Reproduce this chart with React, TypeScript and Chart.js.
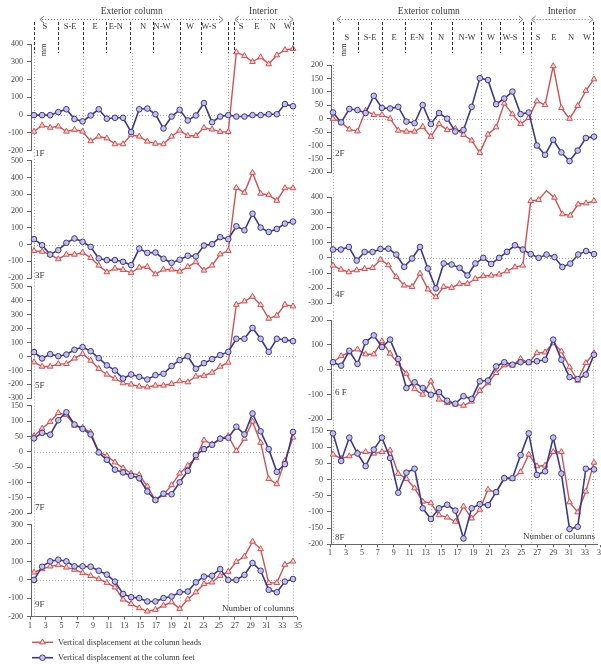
import React, { useEffect, useRef } from "react";
import { Chart, registerables } from "chart.js";

Chart.register(...registerables);

const SERIF = "'Liberation Serif', 'DejaVu Serif', 'Times New Roman', serif";

// ---------------- data ----------------
const X_TICK_LABELS = [1, 3, 5, 7, 9, 11, 13, 15, 17, 19, 21, 23, 25, 27, 29, 31, 33, 35];
const DIRECTION_LABELS = ["S", "S-E", "E", "E-N", "N", "N-W", "W", "W-S", "S", "E", "N", "W"];
const GROUP_TITLES = ["Exterior column", "Interior"];
const SERIES_NAMES = [
  "Vertical displacement at the column heads",
  "Vertical displacement at the column feet",
];
const X_TITLE = "Number of columns";
const UNIT = "mm";

const HEADS_1F = [-92, -58, -70, -63, -92, -82, -92, -146, -120, -130, -163, -163, -110, -120, -148, -160, -163, -120, -86, -116, -116, -71, -80, -94, -94, 354, 333, 300, 326, 287, 337, 367, 373];
const FEET_1F = [0, 0, 0, 17, 33, -22, -35, -2, 33, -20, -15, -15, -95, 33, 37, 5, -75, -8, 30, -30, -2, 68, -40, -8, 0, -8, -8, 0, 0, 5, 5, 62, 50];

const HEADS_3F = [-38, -42, -60, -87, -60, -60, -48, -79, -125, -165, -143, -151, -169, -137, -133, -177, -149, -149, -161, -133, -105, -155, -125, -58, -38, 339, 310, 429, 304, 296, 262, 337, 337];
const FEET_3F = [32, -4, -60, -34, 10, 36, 16, -14, -83, -93, -93, -103, -123, -24, -50, -48, -85, -109, -91, -67, -71, -6, 2, 44, 32, 109, 85, 184, 101, 75, 93, 125, 137];

const HEADS_5F = [-41, -72, -72, -53, -53, -14, 19, -29, -88, -129, -158, -191, -200, -215, -220, -208, -208, -196, -177, -184, -143, -138, -115, -72, -43, 372, 396, 430, 370, 272, 294, 372, 360];
const FEET_5F = [31, -14, 17, 2, 14, 48, 67, 38, -12, -64, -100, -158, -129, -146, -165, -134, -124, -69, -26, 2, -88, -48, -19, 10, 33, 127, 127, 205, 127, 33, 127, 119, 110];

const HEADS_7F = [52, 76, 98, 127, 120, 86, 79, 63, 0, -13, -34, -53, -70, -75, -112, -157, -140, -108, -70, -45, -19, 38, 25, 43, 52, 3, 43, 99, 30, -88, -105, -29, 47];
const FEET_7F = [44, 62, 56, 103, 129, 89, 75, 57, -2, -26, -58, -67, -78, -86, -129, -157, -136, -138, -99, -62, -11, 9, 23, 43, 46, 82, 57, 125, 67, 9, -65, -40, 65];

const HEADS_9F = [41, 59, 74, 81, 68, 56, 38, 22, 5, -15, -40, -106, -130, -153, -171, -162, -139, -121, -157, -105, -67, -22, -13, 23, 45, 99, 128, 209, 168, -16, -16, 83, 101];
const FEET_9F = [0, 72, 101, 110, 101, 74, 74, 72, 50, 29, -9, -76, -94, -99, -117, -117, -99, -90, -67, -63, -13, 18, 23, 59, 0, 0, 27, 92, 50, -54, -67, -9, 5];

const HEADS_2F = [0, -14, -40, -47, 30, 14, 14, 0, -44, -48, -48, -30, -67, -20, -42, -37, -60, -81, -127, -59, -32, 57, 17, -20, 3, 65, 51, 196, 40, 0, 48, 104, 147];
const FEET_2F = [23, -14, 36, 32, 21, 85, 40, 38, 44, -11, -17, 51, -20, 21, 0, -48, -42, 44, 151, 144, 54, 75, 101, 17, 23, -100, -135, -79, -126, -158, -119, -72, -67];

const HEADS_4F = [-50, -77, -94, -81, -72, -66, -11, -48, -125, -182, -191, -103, -208, -259, -191, -197, -171, -171, -138, -120, -116, -109, -88, -61, -50, 376, 383, 444, 398, 289, 280, 354, 361, 376];
const FEET_4F = [55, 55, 72, -18, 39, 39, 59, 61, 22, -59, -4, 72, -70, -202, -37, -44, -66, -116, -37, 0, -40, 0, 40, 83, 55, 25, 0, 22, 5, -60, -38, 22, 45, 25];

const HEADS_6F = [30, 55, 70, 82, 62, 62, 115, 65, 25, -16, -78, -100, -47, -120, -134, -140, -145, -128, -85, -54, -13, 18, 17, 44, 27, 67, 70, 107, 74, 10, -44, 27, 67];
const FEET_6F = [30, 16, 76, 23, 111, 138, 91, 121, 43, -74, -51, -74, -101, -91, -125, -137, -107, -118, -47, -44, 13, 30, 20, 30, 30, 34, 40, 121, 40, -30, -38, -20, 60];

const HEADS_8F = [77, 64, 72, 82, 85, 80, 85, 90, 18, 2, -27, -68, -73, -110, -117, -130, -83, -120, -93, -31, -41, 4, 2, 23, 77, 41, 43, 85, 85, -70, -101, -37, 52];
const FEET_8F = [142, 57, 129, 80, 41, 92, 129, 66, -41, 21, 33, -89, -122, -89, -78, -96, -182, -89, -76, -79, -39, 4, 4, 75, 142, 14, 25, 129, 18, -153, -146, 33, 31];

const Y_TICKS_1F = [-200, -100, 0, 100, 200, 300, 400];
const Y_TICKS_3F = [-200, -100, 0, 100, 200, 300, 400, 500];
const Y_TICKS_5F = [-300, -200, -100, 0, 100, 200, 300, 400, 500];
const Y_TICKS_7F = [-200, -150, -100, -50, 0, 50, 100, 150];
const Y_TICKS_9F = [-200, -100, 0, 100, 200, 300];
const Y_TICKS_2F = [-200, -150, -100, -50, 0, 50, 100, 150, 200];
const Y_TICKS_4F = [-300, -200, -100, 0, 100, 200, 300, 400];
const Y_TICKS_6F = [-200, -100, 0, 100, 200];
const Y_TICKS_8F = [-200, -150, -100, -50, 0, 50, 100, 150];

// ---------------- layout / style ----------------
const RED = "#cd5353";
const RED_FILL = "#f6d3d3";
const BLUE = "#3b3889";
const BLUE_FILL = "#c3c1e8";
const TEXT = "#3a3a3a";
const AXIS = "#666";
const XAXIS_H = 14;
const HEADER_BOTTOM = 53;
const TRI_R = 3.3;
const CIRC_R = 2.8;

const COLUMNS: any = {
  L: {
    canvasLeft: 0, canvasWidth: 304, axisX: 31, areaRight: 296,
    firstPt: 34, lastPt: 293, label1X: 30, labelUnit: 7.88,
    grid: [1.55, 7.73, 13.94, 20.04, 26.13, 34.41],
    seps: [1.55, 4.55, 7.73, 10.64, 13.69, 16.61, 20.04, 22.7, 26.13, 26.9, 34.41],
    arrows: [[2.27, 25.5], [27.0, 34.4]],
    titles: [13.9, 30.6],
    dirs: [2.9, 6.08, 9.25, 11.9, 15.34, 17.75, 21.3, 23.7, 27.8, 29.8, 31.8, 33.7],
    dirY: 27, mm: 2.78, xTitleY: -7.7,
  },
  R: {
    canvasLeft: 300, canvasWidth: 310, axisX: 331, areaRight: 597,
    firstPt: 333, lastPt: 594, label1X: 330, labelUnit: 7.97,
    grid: [1.38, 7.49, 13.67, 19.95, 26.22, 34.04],
    seps: [1.38, 4.51, 7.52, 10.41, 13.67, 16.31, 19.95, 22.33, 25.22, 26.22, 34.04],
    arrows: [[1.88, 25.2], [26.3, 34.0]],
    titles: [13.4, 30.1],
    dirs: [3.13, 6.02, 9.03, 11.92, 14.93, 18.19, 21.2, 23.58, 27.1, 29.1, 31.24, 33.25],
    dirY: 38, mm: 2.76, xTitleY: -7.3,
  },
};

const PANELS: any[] = [
  { floor: "1F", heads: HEADS_1F, feet: FEET_1F, yTicks: Y_TICKS_1F, col: "L", top: 44, bottom: 150.7, labelDy: 3, header: true },
  { floor: "3F", heads: HEADS_3F, feet: FEET_3F, yTicks: Y_TICKS_3F, col: "L", top: 160.5, bottom: 278, labelDy: -2 },
  { floor: "5F", heads: HEADS_5F, feet: FEET_5F, yTicks: Y_TICKS_5F, col: "L", top: 286.7, bottom: 398.3, labelDy: -13 },
  { floor: "7F", heads: HEADS_7F, feet: FEET_7F, yTicks: Y_TICKS_7F, col: "L", top: 405, bottom: 513.3, labelDy: -5.6 },
  { floor: "9F", heads: HEADS_9F, feet: FEET_9F, yTicks: Y_TICKS_9F, col: "L", top: 524, bottom: 616.7, labelDy: -12, xAxis: true, legend: true },
  { floor: "2F", heads: HEADS_2F, feet: FEET_2F, yTicks: Y_TICKS_2F, col: "R", top: 65, bottom: 172.3, labelDy: -19, header: true },
  { floor: "4F", heads: HEADS_4F, feet: FEET_4F, yTicks: Y_TICKS_4F, col: "R", top: 197.3, bottom: 303.3, labelDy: -9 },
  { floor: "6 F", heads: HEADS_6F, feet: FEET_6F, yTicks: Y_TICKS_6F, col: "R", top: 320, bottom: 419.3, labelDy: -27 },
  { floor: "8F", heads: HEADS_8F, feet: FEET_8F, yTicks: Y_TICKS_8F, col: "R", top: 430.7, bottom: 544.3, labelDy: -7, xAxis: true },
];

function extents(i: number) {
  const p = PANELS[i];
  const same = PANELS.filter((q) => q.col === p.col);
  const k = same.indexOf(p);
  const prev = same[k - 1];
  const next = same[k + 1];
  return {
    extTop: prev ? (p.top - prev.bottom) / 2 : 0,
    extBottom: next ? (next.top - p.bottom) / 2 : 0,
  };
}

function geom(i: number) {
  const p = PANELS[i];
  const c = COLUMNS[p.col];
  const { extTop, extBottom } = extents(i);
  const top = p.header ? 0 : Math.floor(p.top - Math.max(7, extTop)) - 1;
  const bottom = p.legend ? 664 : p.xAxis ? Math.ceil(p.bottom) + 20 : Math.ceil(p.bottom + Math.max(8, extBottom)) + 1;
  return {
    left: c.canvasLeft, top, w: c.canvasWidth, h: bottom - top,
    padTop: p.top - top,
    padBottom: bottom - p.bottom - (p.xAxis ? XAXIS_H : 0),
    extTop, extBottom,
  };
}

function line(ctx: CanvasRenderingContext2D, x1: number, y1: number, x2: number, y2: number) {
  ctx.beginPath();
  ctx.moveTo(x1, y1);
  ctx.lineTo(x2, y2);
  ctx.stroke();
}

function drawHeader(ctx: CanvasRenderingContext2D, xl: any, c: any) {
  const px = (v: number) => xl.getPixelForValue(v);
  ctx.save();
  ctx.fillStyle = TEXT;
  ctx.textAlign = "center";
  ctx.textBaseline = "middle";
  ctx.font = `9.5px ${SERIF}`;
  GROUP_TITLES.forEach((t, i) => ctx.fillText(t, px(c.titles[i]), 11));
  ctx.strokeStyle = "#777";
  ctx.lineWidth = 1;
  c.arrows.forEach(([a, b]: number[]) => {
    const xa = px(a);
    const xb = px(b);
    const y = 19.5;
    ctx.setLineDash([1, 2]);
    line(ctx, xa + 2, y, xb - 2, y);
    ctx.setLineDash([]);
    ctx.beginPath();
    ctx.moveTo(xa + 4, y - 3.5);
    ctx.lineTo(xa, y);
    ctx.lineTo(xa + 4, y + 3.5);
    ctx.stroke();
    ctx.beginPath();
    ctx.moveTo(xb - 4, y - 3.5);
    ctx.lineTo(xb, y);
    ctx.lineTo(xb - 4, y + 3.5);
    ctx.stroke();
  });
  ctx.strokeStyle = "#333";
  ctx.setLineDash([3, 2]);
  c.seps.forEach((k: number) => {
    const x = Math.round(px(k)) + 0.5;
    line(ctx, x, 22, x, HEADER_BOTTOM);
  });
  ctx.setLineDash([]);
  ctx.font = `8.5px ${SERIF}`;
  DIRECTION_LABELS.forEach((t, i) => ctx.fillText(t, px(c.dirs[i]), c.dirY));
  ctx.translate(px(c.mm), 50);
  ctx.rotate(-Math.PI / 2);
  ctx.fillText(UNIT, 0, 0);
  ctx.restore();
}

function drawTriangle(ctx: CanvasRenderingContext2D, x: number, y: number, r: number) {
  ctx.beginPath();
  ctx.moveTo(x, y - r);
  ctx.lineTo(x - r * 0.866, y + r / 2);
  ctx.lineTo(x + r * 0.866, y + r / 2);
  ctx.closePath();
}

function drawLegend(ctx: CanvasRenderingContext2D, canvasTop: number) {
  const rows = [642.3, 657.7];
  ctx.save();
  rows.forEach((yy, i) => {
    const y = yy - canvasTop;
    const color = i === 0 ? RED : BLUE;
    const fill = i === 0 ? RED_FILL : BLUE_FILL;
    ctx.strokeStyle = color;
    ctx.lineWidth = i === 0 ? 1.4 : 1.6;
    line(ctx, 32, y, 53, y);
    ctx.lineWidth = 1;
    ctx.fillStyle = fill;
    if (i === 0) drawTriangle(ctx, 42.5, y, TRI_R);
    else {
      ctx.beginPath();
      ctx.arc(42.5, y, CIRC_R, 0, Math.PI * 2);
    }
    ctx.fill();
    ctx.stroke();
    ctx.fillStyle = TEXT;
    ctx.font = `8.5px ${SERIF}`;
    ctx.textAlign = "left";
    ctx.textBaseline = "middle";
    ctx.fillText(SERIES_NAMES[i], 58, y);
  });
  ctx.restore();
}

function decor(p: any, c: any, g: any) {
  return {
    id: "decor",
    beforeDatasetsDraw(chart: any) {
      const { ctx, chartArea } = chart;
      const xl = chart.scales.xl;
      const y = chart.scales.y;
      ctx.save();
      ctx.strokeStyle = "#a8a8a8";
      ctx.lineWidth = 1;
      ctx.setLineDash([1, 2]);
      const y0 = p.header ? HEADER_BOTTOM : chartArea.top - g.extTop;
      const y1 = chartArea.bottom + (p.xAxis ? 0 : g.extBottom);
      c.grid.forEach((k: number) => {
        const x = Math.round(xl.getPixelForValue(k)) + 0.5;
        line(ctx, x, y0, x, y1);
      });
      const yz = Math.round(y.getPixelForValue(0)) + 0.5;
      line(ctx, chartArea.left, yz, chartArea.right, yz);
      ctx.restore();
    },
    afterDraw(chart: any) {
      const { ctx, chartArea } = chart;
      ctx.save();
      ctx.fillStyle = TEXT;
      ctx.font = `9px ${SERIF}`;
      ctx.textAlign = "left";
      ctx.textBaseline = "middle";
      ctx.fillText(p.floor, chartArea.left + 4, chartArea.bottom + p.labelDy);
      if (p.xAxis) {
        ctx.textAlign = "right";
        ctx.fillText(X_TITLE, chartArea.right - 2, chartArea.bottom + c.xTitleY);
      }
      ctx.restore();
      if (p.header) drawHeader(ctx, chart.scales.xl, c);
      if (p.legend) drawLegend(ctx, g.top);
    },
  };
}

function makeChart(canvas: HTMLCanvasElement, i: number) {
  const p = PANELS[i];
  const c = COLUMNS[p.col];
  const g = geom(i);
  const n = p.heads.length;
  const sp = (c.lastPt - c.firstPt) / (n - 1);
  const tickFont = { family: SERIF, size: 8 };
  return new Chart(canvas, {
    type: "line",
    data: {
      datasets: [
        {
          label: SERIES_NAMES[0],
          data: p.heads.map((v: number, j: number) => ({ x: j + 1, y: v })),
          xAxisID: "x", yAxisID: "y",
          borderColor: RED, backgroundColor: RED_FILL,
          pointBackgroundColor: RED_FILL, pointBorderColor: RED,
          pointStyle: "triangle", pointRadius: TRI_R, pointBorderWidth: 1,
          borderWidth: 1.4, tension: 0, order: 1, clip: false,
        },
        {
          label: SERIES_NAMES[1],
          data: p.feet.map((v: number, j: number) => ({ x: j + 1, y: v })),
          xAxisID: "x", yAxisID: "y",
          borderColor: BLUE, backgroundColor: BLUE_FILL,
          pointBackgroundColor: BLUE_FILL, pointBorderColor: BLUE,
          pointStyle: "circle", pointRadius: CIRC_R, pointBorderWidth: 1,
          borderWidth: 1.6, tension: 0, order: 0, clip: false,
        },
      ],
    },
    options: {
      animation: false,
      responsive: false,
      devicePixelRatio: 1,
      events: [],
      layout: {
        autoPadding: false,
        padding: {
          left: 0,
          right: c.canvasWidth - (c.areaRight - c.canvasLeft),
          top: g.padTop,
          bottom: g.padBottom,
        },
      },
      plugins: { legend: { display: false }, tooltip: { enabled: false } },
      scales: {
        x: {
          type: "linear",
          display: false,
          min: 1 - (c.firstPt - c.axisX) / sp,
          max: n + (c.areaRight - c.lastPt) / sp,
        },
        xl: {
          type: "linear",
          position: "bottom",
          display: !!p.xAxis,
          min: 1 + (c.axisX - c.label1X) / c.labelUnit,
          max: 1 + (c.areaRight - c.label1X) / c.labelUnit,
          afterBuildTicks: (s: any) => { s.ticks = X_TICK_LABELS.map((v) => ({ value: v })); },
          afterFit: (s: any) => { s.height = p.xAxis ? XAXIS_H : 0; },
          ticks: { autoSkip: false, maxRotation: 0, minRotation: 0, padding: 1, color: "#444", font: tickFont },
          grid: { drawOnChartArea: false, drawTicks: true, tickLength: 3, color: AXIS, lineWidth: 1 },
          border: { display: true, color: AXIS, width: 1 },
        },
        y: {
          type: "linear",
          min: p.yTicks[0],
          max: p.yTicks[p.yTicks.length - 1],
          afterBuildTicks: (s: any) => { s.ticks = p.yTicks.map((v: number) => ({ value: v })); },
          afterFit: (s: any) => { s.width = c.axisX - c.canvasLeft; },
          ticks: { padding: 4, color: "#444", font: tickFont },
          grid: { drawOnChartArea: false, drawTicks: true, tickLength: 4, color: AXIS },
          border: { display: true, color: AXIS, width: 1 },
        },
      },
    } as any,
    plugins: [decor(p, c, g)],
  } as any);
}

export default function App() {
  const refs = useRef<(HTMLCanvasElement | null)[]>([]);
  useEffect(() => {
    const charts = PANELS.map((_, i) => makeChart(refs.current[i] as HTMLCanvasElement, i));
    return () => {
      charts.forEach((ch) => ch.destroy());
    };
  }, []);
  return (
    <div
      style={{
        position: "fixed", left: 0, top: 0, width: 601, height: 664,
        overflow: "hidden", background: "#fff",
      }}
    >
      {PANELS.map((p, i) => {
        const g = geom(i);
        return (
          <canvas
            key={p.floor}
            ref={(el) => { refs.current[i] = el; }}
            width={g.w}
            height={g.h}
            style={{ position: "absolute", left: g.left, top: g.top, width: g.w, height: g.h }}
          />
        );
      })}
    </div>
  );
}
